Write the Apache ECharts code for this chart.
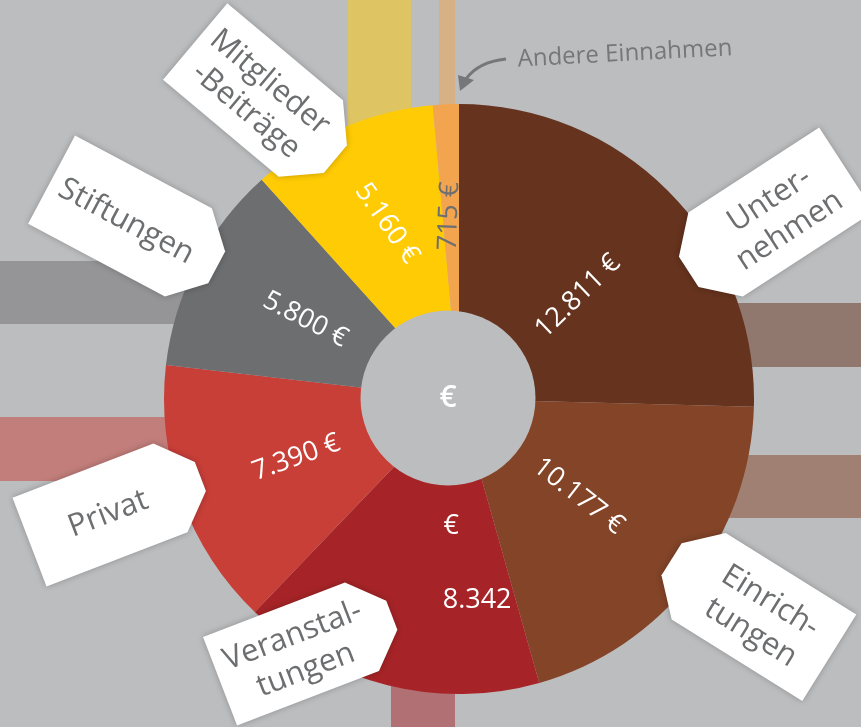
<!DOCTYPE html>
<html>
<head>
<meta charset="utf-8">
<script src="https://cdn.jsdelivr.net/npm/echarts@6/dist/echarts.min.js"></script>
<style>
html, body { margin: 0; padding: 0; background: #bcbdbf; }
#chart { width: 861px; height: 727px; }
</style>
</head>
<body>
<div id="chart"></div>
<script>
// Einnahmen, im Uhrzeigersinn ab 12 Uhr
const categories = ['Unternehmen', 'Einrichtungen', 'Veranstaltungen', 'Privat', 'Stiftungen', 'Mitglieder-Beiträge', 'Andere Einnahmen'];
const values = [12811, 10177, 8342, 7390, 5800, 5160, 715];
// Beschriftung der Anhänger (mit Trennstrich wie im Original)
const tagTexts = ['Unter-\nnehmen', 'Einrich-\ntungen', 'Veranstal-\ntungen', 'Privat', 'Stiftungen', 'Mitglieder\n-Beiträge'];
const colors = ['#65331e', '#834428', '#a62427', '#c83f38', '#6d6e70', '#ffcb05', '#f2a54e'];

const FONT = '"Open Sans", "Noto Sans", sans-serif';
const GREY_TEXT = '#6d6e70';

// Lage der Anhänger (Mitte, Drehung in Grad, Breite, Höhe, Seite der Spitze)
const tags = [
  { x: 781, y: 212, rot: 33, w: 156, h: 100, tip: 'left' },
  { x: 764, y: 617, rot: -32, w: 154, h: 102, tip: 'left' },
  { x: 291, y: 654, rot: 21, w: 152, h: 95, tip: 'right' },
  { x: 100, y: 515, rot: 21, w: 151, h: 95, tip: 'right' },
  { x: 120, y: 216, rot: -28, w: 155, h: 100, tip: 'right' },
  { x: 253, y: 90, rot: -40, w: 151, h: 100, tip: 'right' }
];

// Streifen hinter dem Ring: [x, y, w, h, Farbindex]
const bands = [
  [348, 0, 63, 300, 5],
  [439, 0, 16, 300, 6],
  [600, 303, 261, 64, 0],
  [600, 455, 261, 63, 1],
  [391, 500, 64, 227, 2],
  [0, 417, 300, 64, 3],
  [0, 261, 300, 63, 4]
];

// Verschiebung der Wertbeschriftung auf dem Bildschirm [dx, dy] in px
const labelShift = [[-5, 18], [-17, -9], [60, -4], [0, 0], [0, 0], [-3, -17], [-2, -10]];

function fmt(v) {
  return String(v).replace(/\B(?=(\d{3})+(?!\d))/g, '.');
}

function tagPoints(t) {
  const a = t.w / 2, b = t.h / 2, d = 32;
  if (t.tip === 'left') {
    return [[-a, -b], [a, -b], [a, b], [-a, b], [-a - d, b - d], [-a - d, -b + d]];
  }
  return [[-a, -b], [a, -b], [a + d, -b + d], [a + d, b - d], [a, b], [-a, b]];
}

// Mittelwinkel jedes Segments (im Uhrzeigersinn ab oben) und Drehung der Beschriftung
const total = values.reduce(function (s, v) { return s + v; }, 0);
const labelRot = [];
let acc = 0;
values.forEach(function (v) {
  const th = (acc + v / 2) / total * 2 * Math.PI;
  const m = th - Math.PI / 2;
  labelRot.push(Math.sin(th) < 0 ? -m + Math.PI : -m);
  acc += v;
});
const rotOverride = { 2: 0, 5: -55, 6: 88 };
Object.keys(rotOverride).forEach(function (k) { labelRot[k] = rotOverride[k] * Math.PI / 180; });

const elements = [];
bands.forEach(function (b) {
  elements.push({
    type: 'rect', z: 0,
    shape: { x: b[0], y: b[1], width: b[2], height: b[3] },
    style: { fill: colors[b[4]], opacity: 0.5 }
  });
});

// grauer Kreis in der Mitte
elements.push({
  type: 'circle', z: 50,
  shape: { cx: 448, cy: 398, r: 87.5 },
  style: { fill: '#bcbdbf' }
});
elements.push({
  type: 'text', z: 51, x: 448, y: 398,
  style: { text: '€', fill: '#fff', font: '600 30px ' + FONT, align: 'center', verticalAlign: 'middle' }
});

tags.forEach(function (t, i) {
  elements.push({
    type: 'group', z: 100,
    x: t.x, y: t.y, rotation: t.rot * Math.PI / 180,
    children: [
      {
        type: 'polygon', z: 100,
        shape: { points: tagPoints(t) },
        style: { fill: '#fff', shadowBlur: 6, shadowColor: 'rgba(0,0,0,0.25)' }
      },
      {
        type: 'text', z: 101,
        x: t.tip === 'right' ? 8 : -3,
        y: 2,
        style: {
          text: tagTexts[i], fill: GREY_TEXT, font: '31px ' + FONT,
          align: 'center', verticalAlign: 'middle', lineHeight: 37
        }
      }
    ]
  });
});

// Hinweis "Andere Einnahmen" mit Pfeil
elements.push({
  type: 'text', z: 100, x: 625, y: 54, rotation: 3 * Math.PI / 180,
  style: { text: categories[6], fill: '#76777a', font: '24px ' + FONT, align: 'center', verticalAlign: 'middle' }
});
elements.push({
  type: 'bezierCurve', z: 100,
  shape: { x1: 506, y1: 59, cpx1: 478, cpy1: 62, x2: 466, y2: 79 },
  style: { stroke: '#76777a', lineWidth: 3, fill: null }
});
elements.push({
  type: 'polygon', z: 100,
  shape: { points: [[460, 91], [458, 75], [474, 80]] },
  style: { fill: '#76777a' }
});

const pieData = values.map(function (v, i) {
  const item = { name: categories[i], value: v, itemStyle: { color: colors[i] } };
  if (rotOverride[i] != null) item.label = { rotate: rotOverride[i] };
  if (i === 6) item.label.color = GREY_TEXT;
  return item;
});

const chart = echarts.init(document.getElementById('chart'));
chart.setOption({
  backgroundColor: '#bcbdbf',
  animation: false,
  graphic: { elements: elements },
  series: [{
    type: 'pie',
    center: [459, 399],
    radius: [45, 295],
    startAngle: 90,
    clockwise: true,
    silent: true,
    avoidLabelOverlap: false,
    labelLine: { show: false },
    label: {
      show: true,
      position: 'inside',
      rotate: 'radial',
      color: '#fff',
      fontFamily: FONT,
      fontSize: 27,
      lineHeight: 37,
      formatter: function (p) {
        if (p.dataIndex === 2) return '{e|€}\n\n{v|' + fmt(p.value) + '}';
        return fmt(p.value) + ' €';
      },
      rich: {
        e: { color: '#fff', fontFamily: FONT, fontSize: 27, lineHeight: 37, padding: [0, 52, 0, 0] },
        v: { color: '#fff', fontFamily: FONT, fontSize: 27, lineHeight: 37 }
      }
    },
    // dx/dy wirken im gedrehten System der Beschriftung
    labelLayout: function (p) {
      const i = p.dataIndex, r = labelRot[i], s = labelShift[i];
      return {
        dx: s[0] * Math.cos(r) - s[1] * Math.sin(r),
        dy: s[0] * Math.sin(r) + s[1] * Math.cos(r)
      };
    },
    data: pieData
  }]
});
</script>
</body>
</html>
